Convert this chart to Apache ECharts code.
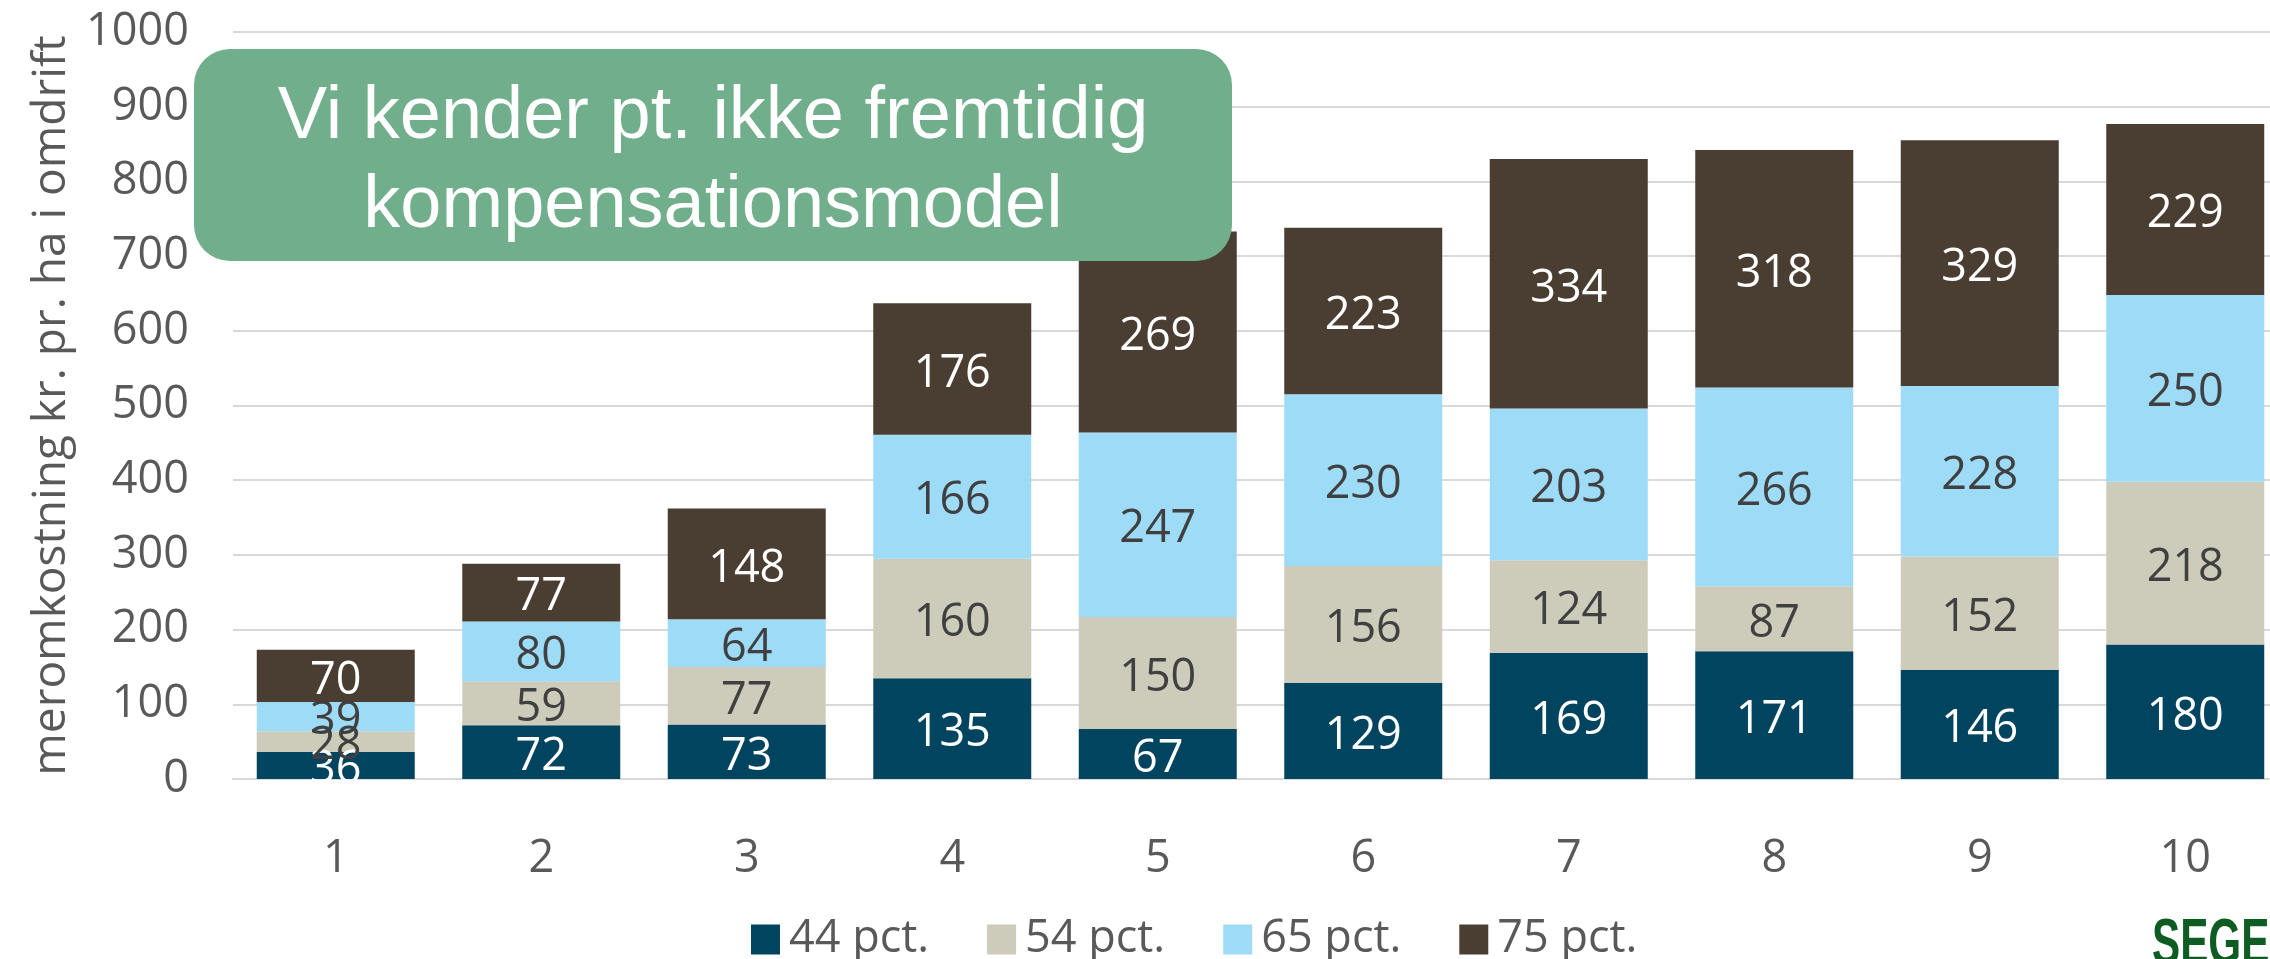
<!DOCTYPE html>
<html>
<head>
<meta charset="utf-8">
<script src="https://cdn.jsdelivr.net/npm/echarts@6/dist/echarts.min.js"></script>
<style>
html,body{margin:0;padding:0;background:#fff;overflow:hidden;width:2270px;height:959px;}
#chart{width:2288px;height:959px;}
</style>
</head>
<body>
<div id="chart"></div>
<script>
const categories = ['1','2','3','4','5','6','7','8','9','10'];
const seriesNames = ['44 pct.','54 pct.','65 pct.','75 pct.'];
const v44 = [36,72,73,135,67,129,169,171,146,180];
const v54 = [28,59,77,160,150,156,124,87,152,218];
const v65 = [39,80,64,166,247,230,203,266,228,250];
const v75 = [70,77,148,176,269,223,334,318,329,229];
const yTicks = {min:0, max:1000, interval:100};
const yTitle = 'meromkostning kr. pr. ha i omdrift';
const boxLines = ['Vi kender pt. ikke fremtidig','kompensationsmodel'];
const logoText = 'SEGES';

const colors = ['#01445F','#CDCCBB','#9DDBF7','#4A3D31'];
const labelColors = ['#FFFFFF','#404040','#404040','#FFFFFF'];
const FONT = '"Open Sans", "Noto Sans", sans-serif';
const data = [v44,v54,v65,v75];

const chart = echarts.init(document.getElementById('chart'), null, {renderer:'canvas'});
const option = {
  animation:false,
  backgroundColor:'#ffffff',
  textStyle:{fontFamily:FONT},
  legend:{
    data:seriesNames,
    left:746, top:912,
    icon:'rect', itemWidth:29, itemHeight:30, itemGap:58,
    textStyle:{fontFamily:FONT, fontSize:45, color:'#595959', padding:[0,0,0,4]}
  },
  grid:{left:233, right:0, top:32, height:747, containLabel:false},
  xAxis:{
    type:'category', data:categories,
    axisLine:{show:true, lineStyle:{color:'#D9D9D9', width:2}},
    axisTick:{show:false},
    axisLabel:{fontFamily:FONT, fontSize:45, color:'#595959', margin:58}
  },
  yAxis:{
    type:'value', min:yTicks.min, max:yTicks.max, interval:yTicks.interval,
    name:yTitle, nameLocation:'middle', nameGap:158, nameRotate:90,
    nameTextStyle:{fontFamily:FONT, fontSize:46, color:'#595959'},
    axisLine:{show:false}, axisTick:{show:false},
    splitLine:{lineStyle:{color:'#D9D9D9', width:2}},
    axisLabel:{fontFamily:FONT, fontSize:45, color:'#595959', margin:44, formatter:(v)=>String(v)}
  },
  series: seriesNames.map((n,i)=>({
    name:n, type:'bar', stack:'total', data:data[i], barWidth:158,
    itemStyle:{color:colors[i]},
    label:{show:true, position:'inside', offset:[0,5], fontFamily:FONT, fontSize:45, color:labelColors[i]}
  })),
  graphic:[
    {type:'rect', z:100, shape:{x:194, y:49, width:1038, height:212, r:36}, style:{fill:'#71AE8B'}},
    {type:'text', z:101, x:713, y:118, style:{text:boxLines[0], font:'74px "Liberation Sans", Arial, sans-serif', fill:'#ffffff', align:'center', verticalAlign:'middle'}},
    {type:'text', z:101, x:713, y:207, style:{text:boxLines[1], font:'74px "Liberation Sans", Arial, sans-serif', fill:'#ffffff', align:'center', verticalAlign:'middle'}},
    {type:'text', z:101, x:2152, y:914, scaleX:0.66, style:{text:logoText, font:'bold 64px "Liberation Sans", Arial, sans-serif', fill:'#0E5C22', align:'left', verticalAlign:'top'}}
  ]
};
chart.setOption(option);
</script>
</body>
</html>
